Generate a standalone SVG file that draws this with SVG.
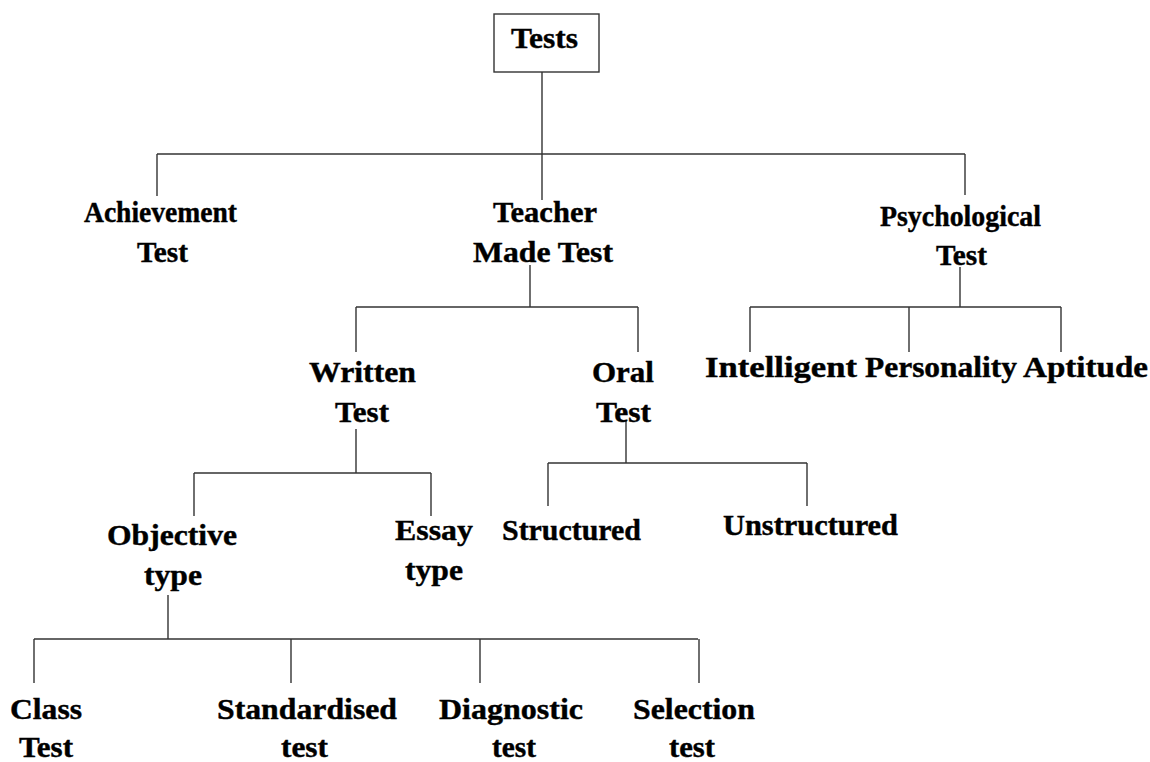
<svg xmlns="http://www.w3.org/2000/svg" width="1150" height="762" viewBox="0 0 1150 762">
<style>
text{font-family:"Liberation Serif","Times New Roman",serif;font-weight:bold;font-size:29px;fill:#000;stroke:#000;stroke-width:0.4;}
.c line{stroke:#333;stroke-width:1.4;}
.box{fill:#fff;stroke:#333;stroke-width:1.4;}
</style>
<rect width="1150" height="762" fill="#fff"/>
<g class="c" id="connectors">
<line x1="542" y1="72" x2="542" y2="200"/>
<line x1="157" y1="154" x2="965" y2="154"/>
<line x1="157" y1="154" x2="157" y2="196"/>
<line x1="965" y1="154" x2="965" y2="195"/>
<line x1="530" y1="265" x2="530" y2="307"/>
<line x1="356" y1="307" x2="638" y2="307"/>
<line x1="356" y1="307" x2="356" y2="352"/>
<line x1="638" y1="307" x2="638" y2="352"/>
<line x1="960" y1="267" x2="960" y2="307"/>
<line x1="750" y1="307" x2="1061" y2="307"/>
<line x1="750" y1="307" x2="750" y2="352"/>
<line x1="909" y1="307" x2="909" y2="352"/>
<line x1="1061" y1="307" x2="1061" y2="352"/>
<line x1="356" y1="429" x2="356" y2="473"/>
<line x1="194" y1="473" x2="431" y2="473"/>
<line x1="194" y1="473" x2="194" y2="516"/>
<line x1="431" y1="473" x2="431" y2="516"/>
<line x1="626" y1="420" x2="626" y2="463"/>
<line x1="548" y1="463" x2="807" y2="463"/>
<line x1="548" y1="463" x2="548" y2="506"/>
<line x1="807" y1="463" x2="807" y2="506"/>
<line x1="168" y1="595" x2="168" y2="639"/>
<line x1="34" y1="639" x2="698" y2="639"/>
<line x1="34" y1="639" x2="34" y2="683"/>
<line x1="291" y1="639" x2="291" y2="683"/>
<line x1="480" y1="639" x2="480" y2="683"/>
<line x1="699" y1="639" x2="699" y2="683"/>
</g>
<g id="tests"><rect class="box" x="494" y="14" width="105" height="58"/><text x="511" y="48" style="font-size:30px" textLength="67" lengthAdjust="spacingAndGlyphs">Tests</text></g>
<g id="achievement"><text x="84" y="222" textLength="153" lengthAdjust="spacingAndGlyphs">Achievement</text><text x="137" y="262" textLength="51" lengthAdjust="spacingAndGlyphs">Test</text></g>
<g id="teacher"><text x="493" y="222" textLength="104" lengthAdjust="spacingAndGlyphs">Teacher</text><text x="473" y="262" textLength="140" lengthAdjust="spacingAndGlyphs">Made Test</text></g>
<g id="psychological"><text x="880" y="226" textLength="161" lengthAdjust="spacingAndGlyphs">Psychological</text><text x="936" y="265" textLength="51" lengthAdjust="spacingAndGlyphs">Test</text></g>
<g id="written"><text x="309" y="382" textLength="107" lengthAdjust="spacingAndGlyphs">Written</text><text x="335" y="422" textLength="54" lengthAdjust="spacingAndGlyphs">Test</text></g>
<g id="oral"><text x="592" y="382" textLength="62" lengthAdjust="spacingAndGlyphs">Oral</text><text x="596" y="422" textLength="55" lengthAdjust="spacingAndGlyphs">Test</text></g>
<g id="intelligent"><text x="705" y="377" textLength="152" lengthAdjust="spacingAndGlyphs">Intelligent</text></g>
<g id="personality"><text x="865" y="377" textLength="152" lengthAdjust="spacingAndGlyphs">Personality</text></g>
<g id="aptitude"><text x="1023" y="377" textLength="125" lengthAdjust="spacingAndGlyphs">Aptitude</text></g>
<g id="objective"><text x="107" y="545" textLength="130" lengthAdjust="spacingAndGlyphs">Objective</text><text x="144" y="585" textLength="58" lengthAdjust="spacingAndGlyphs">type</text></g>
<g id="essay"><text x="395" y="540" textLength="78" lengthAdjust="spacingAndGlyphs">Essay</text><text x="405" y="580" textLength="58" lengthAdjust="spacingAndGlyphs">type</text></g>
<g id="structured"><text x="502" y="540" textLength="139" lengthAdjust="spacingAndGlyphs">Structured</text></g>
<g id="unstructured"><text x="723" y="535" textLength="175" lengthAdjust="spacingAndGlyphs">Unstructured</text></g>
<g id="class"><text x="10" y="719" textLength="72" lengthAdjust="spacingAndGlyphs">Class</text><text x="19" y="757" textLength="54" lengthAdjust="spacingAndGlyphs">Test</text></g>
<g id="standardised"><text x="217" y="719" textLength="180" lengthAdjust="spacingAndGlyphs">Standardised</text><text x="281" y="757" textLength="47" lengthAdjust="spacingAndGlyphs">test</text></g>
<g id="diagnostic"><text x="439" y="719" textLength="144" lengthAdjust="spacingAndGlyphs">Diagnostic</text><text x="492" y="757" textLength="44" lengthAdjust="spacingAndGlyphs">test</text></g>
<g id="selection"><text x="633" y="719" textLength="122" lengthAdjust="spacingAndGlyphs">Selection</text><text x="669" y="757" textLength="46" lengthAdjust="spacingAndGlyphs">test</text></g>
</svg>
